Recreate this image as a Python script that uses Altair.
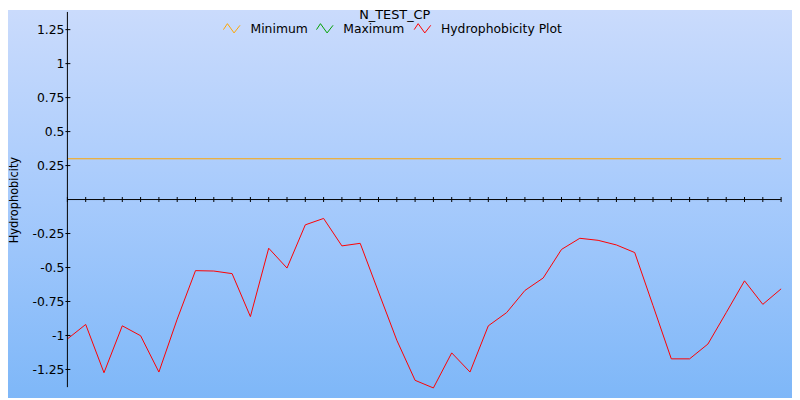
import altair as alt
import pandas as pd

# ---- data ----
title_text = "N_TEST_CP"
y_title = "Hydrophobicity"
series_names = ["Minimum", "Maximum", "Hydrophobicity Plot"]
series_colors = ["#FFA500", "#00A000", "#FF0000"]
positions = list(range(40))
hydro = [-1.026, -0.919, -1.274, -0.929, -1.002, -1.269, -0.880, -0.523, -0.526, -0.545,
         -0.861, -0.358, -0.504, -0.186, -0.139, -0.341, -0.322, -0.680, -1.035, -1.330,
         -1.386, -1.128, -1.269, -0.929, -0.832, -0.669, -0.577, -0.367, -0.285, -0.300,
         -0.334, -0.390, -0.780, -1.172, -1.172, -1.063, -0.832, -0.598, -0.771, -0.657]
minimum_value = 0.3
y_ticks = [1.25, 1, 0.75, 0.5, 0.25, -0.25, -0.5, -0.75, -1, -1.25]

W, H = 721, 379
FONT = "DejaVu Sans"

df = pd.DataFrame({"pos": positions, "val": hydro})
tick_df = pd.DataFrame({"v": y_ticks})
one = pd.DataFrame({"a": [0]})

xs = alt.Scale(domain=[0, 39], nice=False, zero=False)
ys = alt.Scale(domain=[-1.38, 1.38], nice=False, zero=False)

bg = alt.Chart(one).mark_rect(
    fill=alt.Gradient(
        gradient="linear", x1=0, y1=0, x2=0, y2=1,
        stops=[alt.GradientStop(offset=0, color="#cadbfc"),
               alt.GradientStop(offset=0.5, color="#a6cafc"),
               alt.GradientStop(offset=1, color="#7eb7f8")],
    ),
    strokeWidth=0,
).encode(x=alt.value(-60), x2=alt.value(W + 11), y=alt.value(-2), y2=alt.value(H + 11))

min_line = alt.Chart(one).mark_rule(color=series_colors[0], strokeWidth=1).encode(
    y=alt.datum(minimum_value, scale=ys)
)

line = alt.Chart(df).mark_line(color=series_colors[2], strokeWidth=1).encode(
    x=alt.X("pos:Q", scale=xs, axis=None),
    y=alt.Y(
        "val:Q", scale=ys,
        axis=alt.Axis(
            values=y_ticks, labelExpr="'' + datum.value", ticks=False, tickSize=0,
            domain=False, grid=False, labelPadding=3.5, labelFont=FONT,
            labelFontSize=12.5, labelColor="black", labelOverlap=False,
            title=y_title, titleFont=FONT, titleFontSize=11.5, titleFontWeight="normal",
            titleColor="black", titleX=-53, titleY=H / 2, titleBaseline="middle",
            titleAngle=270, zindex=2,
        ),
    ),
)

x_axis_line = alt.Chart(one).mark_rule(color="black", strokeWidth=1).encode(y=alt.datum(0))
y_axis_line = alt.Chart(one).mark_rule(color="black", strokeWidth=1).encode(x=alt.datum(0))

x_ticks = alt.Chart(df).mark_tick(orient="vertical", size=5, thickness=1, color="black", opacity=1).encode(
    x="pos:Q", y=alt.datum(0)
)
y_tick_marks = alt.Chart(tick_df).mark_rule(color="black", strokeWidth=1).encode(
    y="v:Q", x=alt.value(-2), x2=alt.value(3)
)

# legend row (kept just below the title, which must stay inside the drawing)
zigzag = "M-1,0.16L-0.52,-0.56L0.28,0.56L1,-0.36"
sym_x = [166, 260, 358.7]
txt_x = [185, 278.7, 377.4]
legend_layers = []
for i in range(3):
    legend_layers.append(
        alt.Chart(one).mark_point(shape=zigzag, size=279, filled=False, strokeWidth=1,
                                  color=series_colors[i], opacity=1).encode(
            x=alt.value(sym_x[i]), y=alt.value(16.5))
    )
    legend_layers.append(
        alt.Chart(one).mark_text(align="left", baseline="alphabetic", font=FONT,
                                 fontSize=12.5, color="black").encode(
            x=alt.value(txt_x[i]), y=alt.value(21.5), text=alt.value(series_names[i]))
    )

title = alt.Chart(one).mark_text(align="center", baseline="alphabetic", font=FONT,
                                 fontSize=13, color="black").encode(
    x=alt.value(330.7), y=alt.value(7.5), text=alt.value(title_text))

chart = alt.layer(
    bg, min_line, line, x_axis_line, y_axis_line, x_ticks, y_tick_marks, *legend_layers, title
).properties(
    width=W, height=H,
    autosize=alt.AutoSizeParams(type="none"),
    padding={"left": 60, "top": 2, "right": 11, "bottom": 11},
).configure_view(stroke=None)

chart.save("out.html", embed_options={"renderer": "svg", "actions": False})
